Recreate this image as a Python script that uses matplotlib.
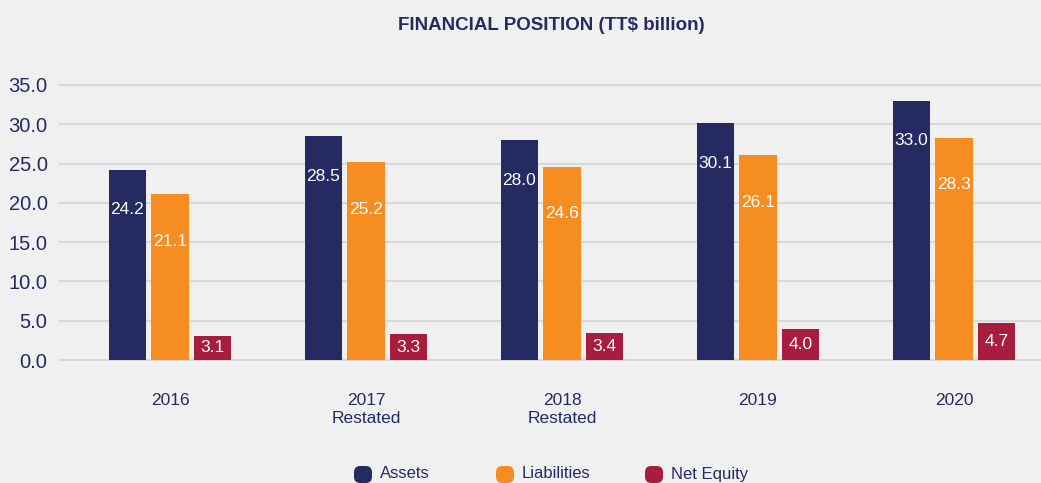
import matplotlib
matplotlib.use("Agg")
import matplotlib.pyplot as plt
from matplotlib.patches import FancyBboxPatch
import numpy as np

categories = ["2016", "2017\nRestated", "2018\nRestated", "2019", "2020"]
assets = [24.2, 28.5, 28.0, 30.1, 33.0]
liabilities = [21.1, 25.2, 24.6, 26.1, 28.3]
net_equity = [3.1, 3.3, 3.4, 4.0, 4.7]
series_names = ["Assets", "Liabilities", "Net Equity"]
yticks = [0, 5, 10, 15, 20, 25, 30, 35]

NAVY = "#262a63"
ORANGE = "#f68d21"
CRIMSON = "#a81c3e"
BG = "#f0f0f0"
GRID = "#d8d8d8"
FONT = ["Liberation Sans", "DejaVu Sans"]
plt.rcParams["font.family"] = FONT

W, H = 1041, 483
fig = plt.figure(figsize=(W / 100, H / 100), dpi=100, facecolor=BG)
ax = fig.add_axes([60 / W, (H - 360) / H, (W - 60) / W, 275 / H])
ax.set_facecolor(BG)

x = np.arange(len(categories))
bw = 0.189
step = 0.217
colors = [NAVY, ORANGE, CRIMSON]
label_drop = [5.1, 6.0, None]
for i, (vals, col) in enumerate(zip([assets, liabilities, net_equity], colors)):
    xs = x + (i - 1) * step
    ax.bar(xs, vals, width=bw, color=col, zorder=3, linewidth=0)
    for xi, v in zip(xs, vals):
        ly = v / 2 if label_drop[i] is None else v - label_drop[i]
        ax.text(xi, ly, f"{v:.1f}", ha="center", va="center", color="white",
                fontsize=12.5, zorder=4)

ax.set_ylim(0, 35)
ax.set_xlim(-110 / 196, (W - 170) / 196)
ax.set_yticks(yticks)
ax.set_yticklabels([f"{t:.1f}" for t in yticks], fontsize=14.5, color=NAVY)
ax.set_xticks(x)
ax.set_xticklabels(categories, fontsize=12.5, color=NAVY, linespacing=1.25)
ax.tick_params(axis="y", length=0, pad=9)
ax.tick_params(axis="x", length=0, pad=24)
ax.grid(axis="y", color=GRID, linewidth=1.5, zorder=0)
ax.set_axisbelow(True)
for s in ax.spines.values():
    s.set_visible(False)
for gl in ax.get_ygridlines():
    gl.set_clip_on(False)

fig.text(551 / W, 1 - 26 / H, "FINANCIAL POSITION (TT$ billion)", ha="center",
         va="center", fontsize=13.5, fontweight="bold", color=NAVY)

# legend
leg_x = [354, 496, 645]
for lx, name, col in zip(leg_x, series_names, colors):
    p = FancyBboxPatch((lx / W, (H - 483) / H), 18 / W, 17 / H,
                       boxstyle="round,pad=0,rounding_size=0.006",
                       transform=fig.transFigure, facecolor=col, edgecolor="none",
                       mutation_aspect=W / H)
    fig.patches.append(p)
    fig.text((lx + 26) / W, 1 - 474 / H, name, ha="left", va="center",
             fontsize=12, color=NAVY)

fig.savefig("out.png", dpi=100, facecolor=BG)
